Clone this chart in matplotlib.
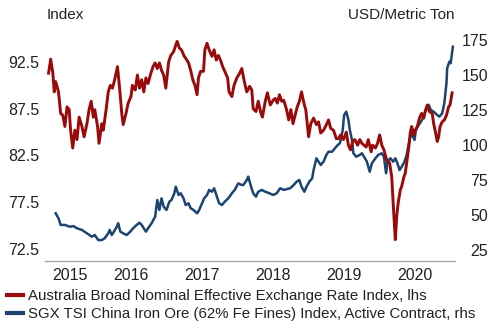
import matplotlib
matplotlib.use("Agg")
import matplotlib.pyplot as plt

plt.rcParams['font.family'] = ['Liberation Sans', 'DejaVu Sans']

# Australia broad nominal effective exchange rate index (lhs), decimal year / value
aud_t = [2015.34, 2015.37, 2015.40, 2015.42, 2015.44, 2015.48, 2015.51, 2015.54, 2015.57, 2015.60,
         2015.63, 2015.65, 2015.68, 2015.71, 2015.74, 2015.77, 2015.81, 2015.84, 2015.88, 2015.91,
         2015.94, 2015.97, 2015.99, 2016.03, 2016.05, 2016.09, 2016.11, 2016.15, 2016.18, 2016.21,
         2016.24, 2016.27, 2016.31, 2016.34, 2016.37, 2016.39, 2016.43, 2016.46, 2016.50, 2016.52,
         2016.56, 2016.59, 2016.62, 2016.65, 2016.68, 2016.71, 2016.74, 2016.78, 2016.81, 2016.84,
         2016.87, 2016.90, 2016.93, 2016.96, 2016.99, 2017.03, 2017.06, 2017.10, 2017.13, 2017.15,
         2017.18, 2017.21, 2017.25, 2017.27, 2017.31, 2017.34, 2017.37, 2017.40, 2017.43, 2017.45,
         2017.48, 2017.52, 2017.54, 2017.57, 2017.60, 2017.64, 2017.67, 2017.70, 2017.73, 2017.76,
         2017.79, 2017.82, 2017.86, 2017.88, 2017.92, 2017.95, 2017.99, 2018.03, 2018.06, 2018.09,
         2018.11, 2018.13, 2018.17, 2018.20, 2018.22, 2018.26, 2018.29, 2018.33, 2018.35, 2018.39,
         2018.42, 2018.46, 2018.50, 2018.53, 2018.56, 2018.59, 2018.62, 2018.65, 2018.69, 2018.72,
         2018.75, 2018.78, 2018.81, 2018.84, 2018.87, 2018.90, 2018.94, 2018.96, 2019.00, 2019.03,
         2019.07, 2019.11, 2019.14, 2019.17, 2019.21, 2019.25, 2019.28, 2019.31, 2019.35, 2019.39,
         2019.42, 2019.45, 2019.49, 2019.53, 2019.56, 2019.59, 2019.62, 2019.65, 2019.69, 2019.72,
         2019.75, 2019.78, 2019.81, 2019.84, 2019.88, 2019.90, 2019.94, 2019.97, 2020.00, 2020.03,
         2020.06, 2020.10, 2020.14, 2020.17, 2020.19, 2020.22, 2020.24, 2020.26, 2020.29, 2020.31,
         2020.34, 2020.36, 2020.38, 2020.41, 2020.43, 2020.45, 2020.48, 2020.50, 2020.53, 2020.56,
         2020.59, 2020.62, 2020.64, 2020.67, 2020.70, 2020.74, 2020.76, 2020.78, 2020.81, 2020.83,
         2020.85, 2020.88, 2020.91, 2020.94, 2020.97, 2020.99, 2021.02]
aud_v = [91.3, 92.8, 91.3, 89.3, 90.4, 89.3, 87.0, 86.8, 85.6, 87.7,
         87.4, 85.2, 83.3, 85.2, 84.2, 86.6, 85.6, 84.5, 85.9, 87.4,
         88.3, 86.6, 87.4, 85.6, 83.8, 85.9, 85.2, 87.4, 89.3, 90.0,
         89.7, 90.6, 92.0, 89.7, 87.0, 85.8, 87.0, 88.1, 88.8, 90.0,
         89.5, 91.1, 89.7, 90.6, 89.3, 90.8, 90.2, 91.3, 92.0, 92.4,
         91.8, 92.4, 91.6, 91.1, 89.7, 92.5, 93.2, 93.6, 94.3, 94.7,
         94.0, 93.8, 93.1, 92.9, 92.4, 91.6, 90.6, 90.0, 89.0, 90.8,
         91.5, 91.5, 93.8, 94.5, 93.8, 93.1, 93.8, 92.7, 93.2, 92.7,
         92.0, 91.5, 90.8, 89.3, 88.8, 90.0, 90.8, 91.3, 91.8, 90.6,
         89.9, 89.3, 89.9, 89.5, 87.5, 87.2, 88.3, 87.0, 86.6, 88.3,
         89.2, 87.9, 88.4, 88.6, 88.1, 89.0, 88.3, 88.4, 87.4, 86.3,
         87.4, 85.9, 86.8, 87.7, 88.3, 89.3, 87.9, 87.4, 84.5, 85.9,
         86.5, 85.8, 86.1, 84.9, 85.2, 85.8, 86.3, 85.4, 85.2, 84.3,
         84.3, 84.7, 84.2, 85.0, 83.6, 83.1, 84.0, 84.2, 83.6, 84.2,
         83.8, 83.6, 83.4, 84.2, 82.9, 83.6, 83.3, 83.8, 84.7, 83.6,
         83.1, 82.0, 81.7, 80.2, 77.4, 73.5, 76.0, 77.4, 78.8, 79.2,
         80.2, 80.6, 81.7, 83.4, 84.9, 85.6, 84.7, 85.2, 85.6, 86.5,
         87.0, 86.5, 87.2, 87.9, 87.2, 87.0, 85.9, 85.2, 84.0, 84.5,
         85.6, 86.1, 86.3, 86.8, 87.7, 87.9, 89.2]

# SGX TSI China iron ore (62% Fe fines), USD/metric ton (rhs)
ore_t = [2015.44, 2015.48, 2015.51, 2015.57, 2015.64, 2015.69, 2015.74, 2015.81, 2015.88, 2015.95,
         2015.99, 2016.04, 2016.09, 2016.13, 2016.18, 2016.20, 2016.23, 2016.26, 2016.30, 2016.32,
         2016.35, 2016.39, 2016.44, 2016.49, 2016.53, 2016.58, 2016.62, 2016.65, 2016.68, 2016.71,
         2016.74, 2016.79, 2016.84, 2016.87, 2016.90, 2016.93, 2016.96, 2017.00, 2017.04, 2017.07,
         2017.11, 2017.13, 2017.17, 2017.20, 2017.24, 2017.27, 2017.31, 2017.34, 2017.38, 2017.43,
         2017.46, 2017.50, 2017.53, 2017.57, 2017.60, 2017.64, 2017.67, 2017.71, 2017.74, 2017.78,
         2017.82, 2017.87, 2017.92, 2017.96, 2018.01, 2018.06, 2018.08, 2018.13, 2018.15, 2018.19,
         2018.22, 2018.26, 2018.29, 2018.34, 2018.39, 2018.45, 2018.50, 2018.55, 2018.60, 2018.65,
         2018.69, 2018.74, 2018.79, 2018.83, 2018.87, 2018.90, 2018.94, 2018.97, 2019.01, 2019.05,
         2019.07, 2019.11, 2019.14, 2019.17, 2019.21, 2019.25, 2019.28, 2019.33, 2019.37, 2019.41,
         2019.44, 2019.48, 2019.50, 2019.53, 2019.56, 2019.58, 2019.61, 2019.63, 2019.67, 2019.72,
         2019.75, 2019.78, 2019.82, 2019.86, 2019.89, 2019.94, 2019.98, 2020.03, 2020.06, 2020.09,
         2020.11, 2020.15, 2020.19, 2020.22, 2020.25, 2020.28, 2020.31, 2020.35, 2020.38, 2020.42,
         2020.45, 2020.49, 2020.51, 2020.55, 2020.58, 2020.62, 2020.65, 2020.69, 2020.72, 2020.76,
         2020.81, 2020.84, 2020.88, 2020.91, 2020.94, 2020.95, 2020.98, 2021.00, 2021.03]
ore_v = [51.2, 47.6, 42.9, 42.9, 41.6, 42.1, 40.5, 39.3, 36.9, 34.5,
         35.7, 32.1, 32.1, 33.4, 36.9, 39.3, 35.7, 38.1, 41.6, 44.1,
         38.1, 36.9, 35.7, 38.1, 40.5, 42.9, 44.5, 42.9, 40.5, 38.1,
         40.5, 44.1, 48.8, 60.7, 53.6, 61.9, 55.9, 53.6, 59.5, 60.7,
         65.5, 70.2, 64.3, 65.5, 61.9, 57.1, 58.4, 54.8, 53.6, 51.2,
         53.6, 58.4, 61.9, 64.3, 67.9, 66.6, 69.1, 63.1, 58.4, 57.1,
         59.5, 61.9, 65.5, 67.9, 72.6, 71.4, 71.4, 75.0, 77.4, 70.2,
         65.5, 63.1, 66.6, 67.9, 66.6, 65.5, 64.3, 65.5, 69.1, 67.9,
         68.4, 69.1, 71.4, 73.8, 75.0, 70.2, 66.6, 70.2, 73.8, 76.2,
         82.1, 90.5, 88.1, 85.7, 88.1, 92.9, 95.2, 95.2, 97.6, 100.0,
         101.2, 110.7, 121.4, 123.8, 117.9, 110.7, 103.6, 94.1, 91.6, 92.9,
         94.1, 91.6, 88.1, 80.9, 86.9, 90.5, 92.9, 94.1, 91.6, 79.8,
         88.1, 90.5, 88.1, 90.5, 86.9, 82.1, 84.5, 88.1, 92.9, 103.6,
         108.4, 103.6, 110.7, 114.3, 116.6, 120.2, 125.0, 128.6, 125.0, 123.8,
         121.4, 120.2, 122.6, 129.8, 144.1, 154.8, 159.5, 158.4, 170.2]

years = [2015, 2016, 2017, 2018, 2019, 2020]
lhs_ticks = [72.5, 77.5, 82.5, 87.5, 92.5]
rhs_ticks = [25, 50, 75, 100, 125, 150, 175]

RED = '#9a0a0a'
BLUE = '#1c4470'
TXT = '#222222'

fig = plt.figure(figsize=(4.99, 3.35), dpi=100)
ax = fig.add_axes([0.0902, 0.2209, 0.8216, 0.6896])
ax2 = ax.twinx()

l1, = ax.plot(aud_t, aud_v, color=RED, lw=2.1, solid_joinstyle='round')
l2, = ax2.plot(ore_t, ore_v, color=BLUE, lw=1.8, solid_joinstyle='round')
ax.set_zorder(ax2.get_zorder() + 1)
ax.patch.set_visible(False)

xmin, xmax = 2015.29, 2021.06
ax.set_xlim(xmin, xmax)
ax.set_ylim(71.22, 95.92)
ax2.set_ylim(17.14, 182.14)

for a in (ax, ax2):
    for s in ('top', 'left', 'right'):
        a.spines[s].set_visible(False)
ax2.spines['bottom'].set_visible(False)
ax.spines['bottom'].set_color('#a8a8a8')
ax.spines['bottom'].set_linewidth(1.0)

# year labels sit in the middle of the visible part of each year
ax.set_xticks([y for y in years if y > xmin] + [2021])
ax.set_xticklabels([])
mids = [(max(y, xmin) + min(y + 1, xmax)) / 2 for y in years]
ax.set_xticks(mids, minor=True)
ax.set_xticklabels([str(y) for y in years], minor=True)
ax.tick_params(axis='x', which='both', length=0, pad=5, labelsize=11.5, labelcolor=TXT)

ax.set_yticks(lhs_ticks)
ax.set_yticklabels([f'{v:.1f}' for v in lhs_ticks])
ax.tick_params(axis='y', length=0, pad=4, labelsize=11.5, labelcolor=TXT)

ax2.set_yticks(rhs_ticks)
ax2.set_yticklabels([str(v) for v in rhs_ticks])
ax2.tick_params(axis='y', length=0, pad=24, labelsize=11.5, labelcolor=TXT)
for lab in ax2.get_yticklabels():
    lab.set_horizontalalignment('right')

fig.text(47 / 499, 1 - 15 / 335, 'Index', ha='left', va='center', fontsize=11, color=TXT)
fig.text(455 / 499, 1 - 15 / 335, 'USD/Metric Ton', ha='right', va='center', fontsize=11, color=TXT)

fig.legend([l1, l2],
           ['Australia Broad Nominal Effective Exchange Rate Index, lhs',
            'SGX TSI China Iron Ore (62% Fe Fines) Index, Active Contract, rhs'],
           loc='upper left', bbox_to_anchor=(0.014, 0.138), frameon=False,
           fontsize=10.8, handlelength=1.05, handletextpad=0.33, labelspacing=0.3,
           borderpad=0, borderaxespad=0, labelcolor=TXT)
for h in fig.legends[0].legend_handles:
    h.set_linewidth(3)

fig.savefig('out.png', dpi=100)
